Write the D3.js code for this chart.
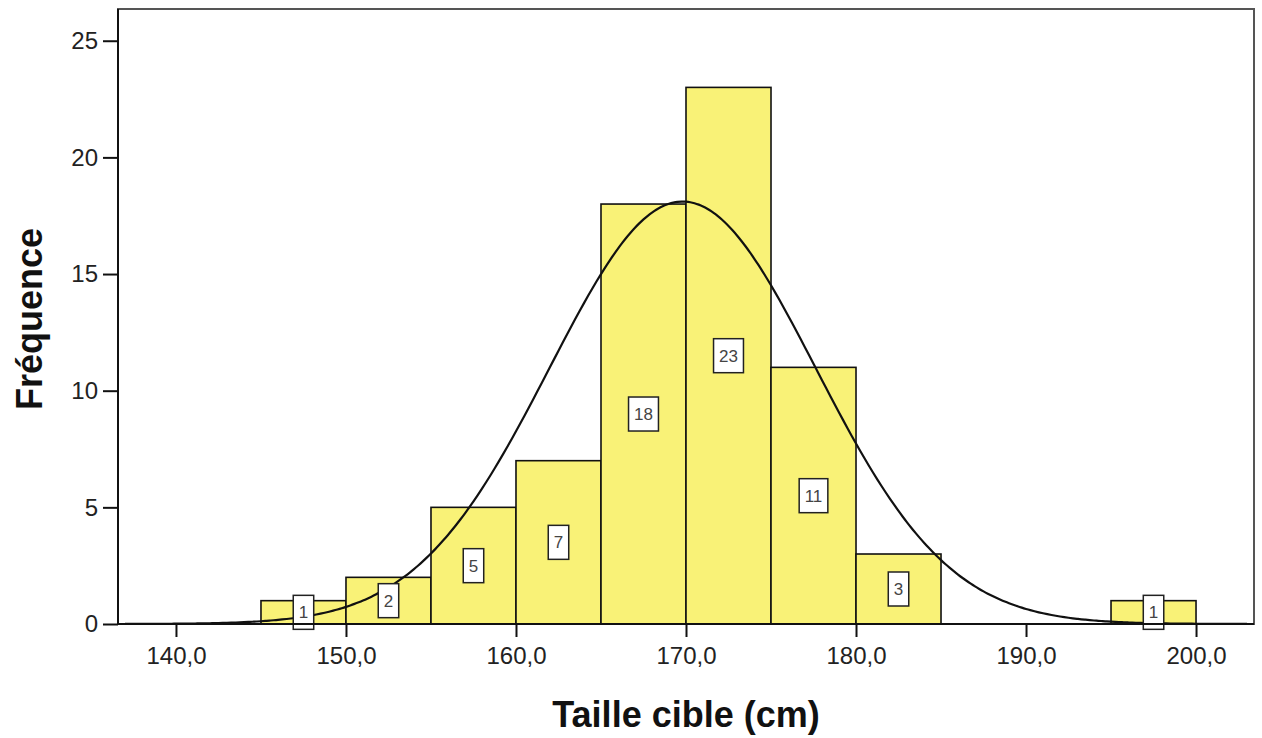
<!DOCTYPE html>
<html>
<head>
<meta charset="utf-8">
<script src="https://cdn.jsdelivr.net/npm/d3@7"></script>
<style>
  html, body { margin: 0; padding: 0; background: #fff; }
  svg { display: block; font-family: "Liberation Sans", Arial, sans-serif; }
</style>
</head>
<body>
<svg id="chart" width="1262" height="738"></svg>
<script>
// Histogram of target height (cm), bins of 5 cm, with fitted normal curve
const binStarts = [145, 150, 155, 160, 165, 170, 175, 180, 185, 190, 195];
const counts    = [1, 2, 5, 7, 18, 23, 11, 3, 0, 0, 1];
const binWidth = 5;
const xTicks = [140, 150, 160, 170, 180, 190, 200];
const yTicks = [0, 5, 10, 15, 20, 25];
const fitMean = 169.8;
const fitSd = 7.82;

const svg = d3.select("#chart");
const plot = { left: 118, right: 1254, top: 9, bottom: 624 };

const x = d3.scaleLinear().domain([136.59, 203.41]).range([plot.left, plot.right]);
const y = d3.scaleLinear().domain([0, 26.36]).range([plot.bottom, plot.top]);

const bins = binStarts.map((s, i) => ({ x0: s, x1: s + binWidth, n: counts[i] }))
  .filter(d => d.n > 0);

// plot frame
svg.append("rect")
  .attr("x", plot.left).attr("y", plot.top)
  .attr("width", plot.right - plot.left).attr("height", plot.bottom - plot.top)
  .attr("fill", "#fff").attr("stroke", "#555").attr("stroke-width", 2);

// bars
svg.append("g").selectAll("rect").data(bins).join("rect")
  .attr("x", d => x(d.x0)).attr("y", d => y(d.n))
  .attr("width", d => x(d.x1) - x(d.x0)).attr("height", d => y(0) - y(d.n))
  .attr("fill", "#f9f277").attr("stroke", "#111").attr("stroke-width", 1.6);

// normal curve
const N = d3.sum(counts);
const dens = v => N * binWidth / (fitSd * Math.sqrt(2 * Math.PI)) *
  Math.exp(-0.5 * Math.pow((v - fitMean) / fitSd, 2));
const curvePts = d3.range(137, 203.01, 0.25).map(v => [v, dens(v)]);
svg.append("path")
  .datum(curvePts)
  .attr("fill", "none").attr("stroke", "#111").attr("stroke-width", 2.2)
  .attr("d", d3.line().x(d => x(d[0])).y(d => y(d[1])).curve(d3.curveBasis));

// count labels in boxes at bin centre, half height
const lab = svg.append("g").selectAll("g").data(bins).join("g")
  .attr("transform", d => `translate(${x((d.x0 + d.x1) / 2)},${y(d.n / 2)})`);
lab.each(function(d) {
  const g = d3.select(this);
  const t = g.append("text")
    .attr("text-anchor", "middle").attr("dy", "0.36em")
    .attr("font-size", 17).attr("fill", "#444")
    .text(d.n);
  const w = t.node().getComputedTextLength() + 11;
  g.insert("rect", "text")
    .attr("x", -w / 2).attr("y", -17).attr("width", w).attr("height", 34)
    .attr("fill", "#fff").attr("stroke", "#222").attr("stroke-width", 1.5);
});

// axes
const xAxis = svg.append("g")
  .attr("transform", `translate(0,${plot.bottom})`)
  .call(d3.axisBottom(x).tickValues(xTicks).tickSize(13).tickPadding(10)
    .tickFormat(d => d3.format(".1f")(d).replace(".", ",")));
const yAxis = svg.append("g")
  .attr("transform", `translate(${plot.left},0)`)
  .call(d3.axisLeft(y).tickValues(yTicks).tickSize(15).tickPadding(5));

[xAxis, yAxis].forEach(a => {
  a.select(".domain").attr("stroke", "#111").attr("stroke-width", 2);
  a.selectAll(".tick line").attr("stroke", "#111").attr("stroke-width", 2);
  a.selectAll(".tick text").attr("font-size", 24).attr("fill", "#222")
    .attr("font-family", "'Liberation Sans', Arial, sans-serif");
});
xAxis.select(".domain").attr("d", `M${plot.left},0H${plot.right}`);
yAxis.select(".domain").attr("d", `M0,${plot.top}V${plot.bottom}`);

// axis titles
svg.append("text")
  .attr("x", 686).attr("y", 727)
  .attr("text-anchor", "middle").attr("font-size", 36).attr("font-weight", "bold")
  .attr("fill", "#111")
  .text("Taille cible (cm)");
svg.append("text")
  .attr("transform", "translate(42,319) rotate(-90)")
  .attr("text-anchor", "middle").attr("font-size", 36).attr("font-weight", "bold")
  .attr("fill", "#111")
  .text("Fréquence");
</script>
</body>
</html>
